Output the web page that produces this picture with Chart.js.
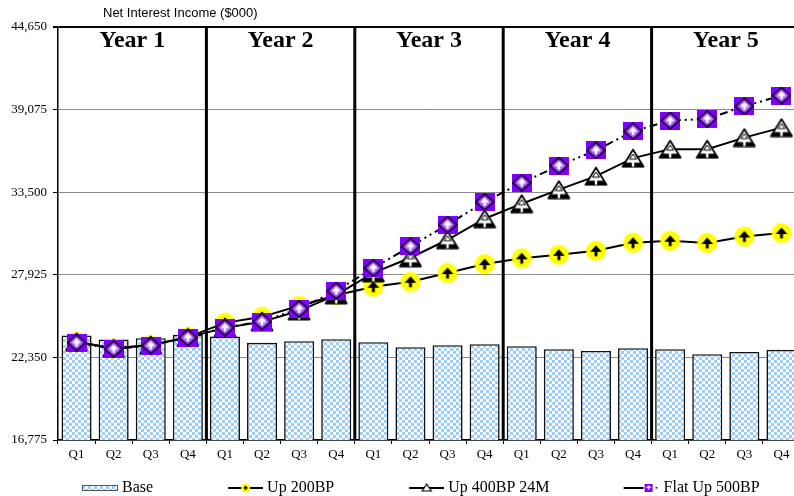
<!DOCTYPE html>
<html>
<head>
<meta charset="utf-8">
<script src="https://cdn.jsdelivr.net/npm/chart.js@4.4.0/dist/chart.umd.min.js"></script>
<style>
html, body { margin: 0; padding: 0; overflow: hidden; background: #fff; }
canvas { display: block; }
</style>
</head>
<body>
<canvas id="NiiChart" width="812" height="506"></canvas>
<script>
var quarters = ['Q1', 'Q2', 'Q3', 'Q4', 'Q1', 'Q2', 'Q3', 'Q4', 'Q1', 'Q2', 'Q3', 'Q4',
                'Q1', 'Q2', 'Q3', 'Q4', 'Q1', 'Q2', 'Q3', 'Q4'];
var years = ['Year 1', 'Year 2', 'Year 3', 'Year 4', 'Year 5'];
var yTicks = [16775, 22350, 27925, 33500, 39075, 44650];
var seriesNames = ['Base', 'Up 200BP', 'Up 400BP 24M', 'Flat Up 500BP'];
var chartTitle = 'Net Interest Income ($000)';

var baseValues = [23824, 23554, 23648, 23871, 23756, 23331, 23446, 23581, 23378, 23040,
                  23175, 23243, 23108, 22905, 22790, 22973, 22905, 22567, 22722, 22858];
var up200Values = [23400, 22950, 23170, 23720, 24682, 25087, 25831, 26540, 27115, 27453,
                   28041, 28649, 29041, 29277, 29548, 30088, 30223, 30068, 30514, 30744];
var up400Values = [23400, 22960, 23190, 23700, 24344, 24749, 25493, 26574, 28061, 29075,
                   30291, 31710, 32724, 33670, 34582, 35799, 36407, 36407, 37184, 37860];
var flat500Values = [23351, 22925, 23148, 23688, 24364, 24770, 25628, 26844, 28379, 29838,
                     31305, 32839, 34143, 35292, 36326, 37610, 38333, 38448, 39300, 40023];

function MakeCanvas(w, h, draw) {
    var c = document.createElement('canvas');
    c.width = w;
    c.height = h;
    draw(c.getContext('2d'), w, h);
    return c;
}

function DrawUpArrow(g, cx, cy, s, color) {
    g.fillStyle = color;
    g.beginPath();
    g.moveTo(cx, cy - s);
    g.lineTo(cx + s * 0.9, cy);
    g.lineTo(cx - s * 0.9, cy);
    g.closePath();
    g.fill();
    g.fillRect(cx - s * 0.22, cy - 0.5, s * 0.44, s * 0.75);
}

var checker = MakeCanvas(6, 6, function (g) {
    g.fillStyle = '#ffffff';
    g.fillRect(0, 0, 6, 6);
    g.fillStyle = '#9fcdfb';
    g.fillRect(0, 0, 3, 3);
    g.fillRect(3, 3, 3, 3);
});

// markers
var markerYellow = MakeCanvas(22, 22, function (g) {
    var grd = g.createRadialGradient(11, 11, 0, 11, 11, 11);
    grd.addColorStop(0, '#ffff00');
    grd.addColorStop(0.8, '#ffff00');
    grd.addColorStop(1, 'rgba(255,255,0,0)');
    g.fillStyle = grd;
    g.beginPath();
    g.arc(11, 11, 11, 0, Math.PI * 2);
    g.fill();
    DrawUpArrow(g, 11, 12, 6.5, '#000');
});

var markerTriangle = MakeCanvas(24, 20, function (g) {
    g.beginPath();
    g.moveTo(12, 1.5);
    g.lineTo(22.5, 18.5);
    g.lineTo(1.5, 18.5);
    g.closePath();
    g.fillStyle = '#fff';
    g.fill();
    g.save();
    g.clip();
    g.fillStyle = '#000';
    g.fillRect(0, 14.5, 24, 5);
    g.restore();
    g.lineWidth = 1.8;
    g.lineJoin = 'round';
    g.strokeStyle = '#000';
    g.stroke();
    g.fillStyle = '#fff';
    g.fillRect(10.8, 10.5, 2.4, 8);
    g.beginPath();
    g.moveTo(12, 6);
    g.lineTo(15.5, 11);
    g.lineTo(8.5, 11);
    g.closePath();
    g.fill();
    g.lineWidth = 1;
    g.stroke();
});

var markerPurple = MakeCanvas(20, 18, function (g) {
    g.fillStyle = '#7f00ff';
    g.fillRect(0, 0, 20, 18);
    g.beginPath();
    g.moveTo(10, 1);
    g.lineTo(19, 9);
    g.lineTo(10, 17);
    g.lineTo(1, 9);
    g.closePath();
    var grd = g.createRadialGradient(10, 9, 1, 10, 9, 9);
    grd.addColorStop(0, '#c890ff');
    grd.addColorStop(1, '#8a10ff');
    g.fillStyle = grd;
    g.fill();
    g.lineWidth = 1.8;
    g.strokeStyle = '#1a0033';
    g.stroke();
    DrawUpArrow(g, 10, 9.5, 5, '#fff');
});

// legend icons
var iconW = 108;
function LegendLine(g, x0, x1) {
    g.strokeStyle = '#000';
    g.lineWidth = 2;
    g.beginPath();
    g.moveTo(x0, 8);
    g.lineTo(x1, 8);
    g.stroke();
}
var legendBase = MakeCanvas(iconW, 16, function (g, w) {
    g.fillStyle = g.createPattern(checker, 'repeat');
    g.fillRect(w - 36, 5, 36, 6);
    g.strokeStyle = '#555';
    g.lineWidth = 1;
    g.strokeRect(w - 35.5, 5.5, 35, 5);
});
var legendUp200 = MakeCanvas(iconW, 16, function (g, w) {
    LegendLine(g, w - 35, w);
    g.fillStyle = '#ffff00';
    g.beginPath();
    g.arc(w - 17.5, 8, 4.5, 0, Math.PI * 2);
    g.fill();
    DrawUpArrow(g, w - 17.5, 8.5, 3, '#000');
});
var legendUp400 = MakeCanvas(iconW, 16, function (g, w) {
    LegendLine(g, w - 35, w);
    g.beginPath();
    g.moveTo(w - 17.5, 4);
    g.lineTo(w - 13, 11);
    g.lineTo(w - 22, 11);
    g.closePath();
    g.fillStyle = '#fff';
    g.fill();
    g.lineWidth = 1.2;
    g.strokeStyle = '#000';
    g.stroke();
});
var legendFlat = MakeCanvas(iconW, 16, function (g, w) {
    LegendLine(g, w - 36, w - 16);
    g.fillStyle = '#7f00ff';
    g.fillRect(w - 15, 4, 8, 8);
    DrawUpArrow(g, w - 11, 8, 3, '#fff');
    g.fillStyle = '#000';
    g.fillRect(w - 4, 7, 1.6, 1.6);
});

var yearPlugin = {
    id: 'yearDividers',
    afterDatasetsDraw: function (chart) {
        var xs = chart.scales.x;
        var area = chart.chartArea;
        var g = chart.ctx;
        g.save();
        g.strokeStyle = '#000';
        g.lineWidth = 3;
        for (var i = 4; i < quarters.length; i += 4) {
            var x = (xs.getPixelForValue(i - 1) + xs.getPixelForValue(i)) / 2;
            g.beginPath();
            g.moveTo(x, area.top);
            g.lineTo(x, area.bottom);
            g.stroke();
        }
        g.fillStyle = '#000';
        g.font = 'bold 24px "Liberation Serif"';
        g.textAlign = 'center';
        g.textBaseline = 'alphabetic';
        years.forEach(function (yr, k) {
            var cx = (xs.getPixelForValue(k * 4) + xs.getPixelForValue(k * 4 + 3)) / 2;
            g.fillText(yr, cx, area.top + 20);
        });
        g.font = '13px "Liberation Sans"';
        g.textAlign = 'left';
        g.fillText(chartTitle, area.left + 45, area.top - 10);
        g.restore();
    }
};

var ctx = document.getElementById('NiiChart').getContext('2d');
var barPattern = ctx.createPattern(checker, 'repeat');
var serifFont = { family: 'Liberation Serif', size: 13 };

window.NiiChart = new Chart(ctx, {
    type: 'bar',
    data: {
        labels: quarters,
        datasets: [{
            label: seriesNames[0],
            data: baseValues,
            backgroundColor: barPattern,
            borderColor: '#111',
            borderWidth: 1.6,
            barPercentage: 0.81,
            categoryPercentage: 1,
            order: 4,
            legendIcon: legendBase
        }, {
            type: 'line',
            label: seriesNames[1],
            data: up200Values,
            borderColor: '#000',
            borderWidth: 2,
            pointStyle: markerYellow,
            pointRadius: 10,
            tension: 0,
            order: 3,
            legendIcon: legendUp200
        }, {
            type: 'line',
            label: seriesNames[2],
            data: up400Values,
            borderColor: '#000',
            borderWidth: 2,
            pointStyle: markerTriangle,
            pointRadius: 10,
            tension: 0,
            order: 2,
            legendIcon: legendUp400
        }, {
            type: 'line',
            label: seriesNames[3],
            data: flat500Values,
            borderColor: '#000',
            borderWidth: 2,
            borderDash: [8, 4, 2, 4, 2, 4],
            pointStyle: markerPurple,
            pointRadius: 10,
            tension: 0,
            order: 1,
            legendIcon: legendFlat
        }]
    },
    options: {
        responsive: false,
        animation: false,
        devicePixelRatio: 1,
        layout: { padding: { left: 8, top: 27, right: 4, bottom: 0 } },
        plugins: {
            tooltip: { enabled: false },
            title: { display: false },
            legend: {
                position: 'bottom',
                align: 'start',
                labels: {
                    usePointStyle: true,
                    pointStyleWidth: 100,
                    padding: 6,
                    color: '#000',
                    font: { family: 'Liberation Serif', size: 16 },
                    generateLabels: function (chart) {
                        return chart.data.datasets.map(function (ds, i) {
                            return {
                                text: ds.label,
                                pointStyle: ds.legendIcon,
                                fillStyle: '#000',
                                strokeStyle: '#000',
                                lineWidth: 0,
                                hidden: false,
                                datasetIndex: i
                            };
                        });
                    }
                }
            }
        },
        scales: {
            x: {
                offset: true,
                grid: { display: true, drawOnChartArea: false, drawTicks: true, tickLength: 4, offset: true, color: '#000' },
                border: { display: true, color: '#000', width: 1.5 },
                ticks: { color: '#000', font: serifFont, padding: 3, maxRotation: 0, autoSkip: false },
                afterFit: function (scale) { scale.height = 34; }
            },
            y: {
                min: yTicks[0],
                max: yTicks[yTicks.length - 1],
                afterBuildTicks: function (scale) {
                    scale.ticks = yTicks.map(function (v) { return { value: v }; });
                },
                grid: {
                    color: function (c) { return c.tick && c.tick.value === yTicks[yTicks.length - 1] ? '#000' : '#8a8a8a'; },
                    lineWidth: function (c) { return c.tick && c.tick.value === yTicks[yTicks.length - 1] ? 2 : 1; },
                    tickColor: '#000',
                    tickLength: 5
                },
                border: { display: true, color: '#000', width: 1.5 },
                ticks: {
                    color: '#000',
                    font: serifFont,
                    padding: 6,
                    callback: function (v) { return Number(v).toLocaleString('en-US'); }
                },
                afterFit: function (scale) { scale.width = 50; }
            }
        }
    },
    plugins: [yearPlugin]
});
</script>
</body>
</html>
